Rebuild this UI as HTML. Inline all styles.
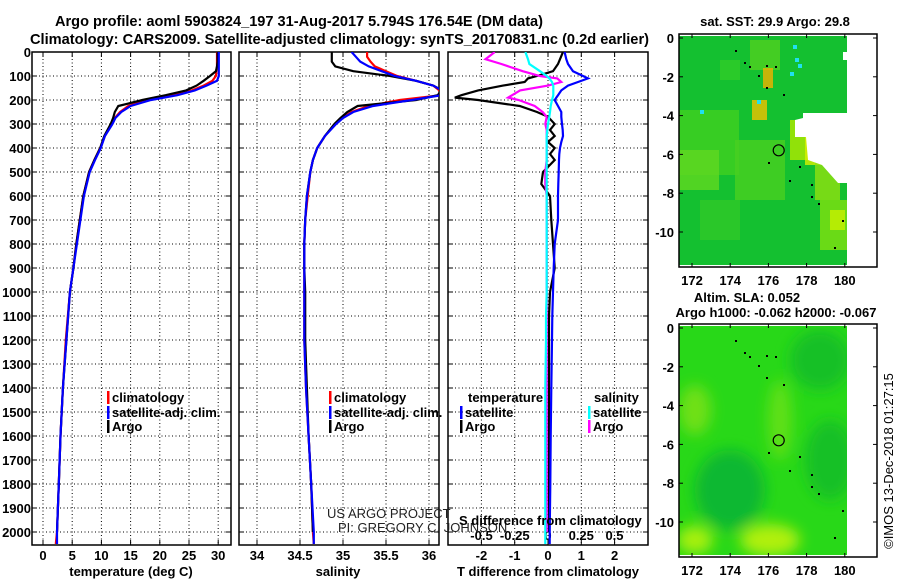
<!DOCTYPE html>
<html><head><meta charset="utf-8"><style>
body{margin:0;background:#fff;}
svg{display:block;font-family:"Liberation Sans",sans-serif;}
.t{font-weight:bold;font-size:13px;}
.ttl{font-weight:bold;font-size:15px;}
</style></head><body>
<svg id="s" width="900" height="580" viewBox="0 0 900 580" xmlns="http://www.w3.org/2000/svg">
<defs>
<clipPath id="c1"><rect x="32" y="52" width="199" height="493"/></clipPath>
<clipPath id="c2"><rect x="239" y="52" width="200" height="493"/></clipPath>
<clipPath id="c3"><rect x="448" y="52" width="200" height="493"/></clipPath>
<filter id="bl"><feGaussianBlur stdDeviation="7"/></filter>
<clipPath id="cm2"><rect x="679" y="326" width="168" height="229"/></clipPath>
</defs>
<text class="ttl" x="55" y="26" textLength="488" lengthAdjust="spacingAndGlyphs">Argo profile: aoml 5903824_197 31-Aug-2017 5.794S 176.54E (DM data)</text>
<text class="ttl" x="30" y="44" textLength="619" lengthAdjust="spacingAndGlyphs">Climatology: CARS2009. Satellite-adjusted climatology: synTS_20170831.nc (0.2d earlier)</text>
<g id="panels"></g>
<g id="maps"></g>
</svg>
<script>
// ---- profile data ----
const depths = [0,20,40,60,80,100,120,140,160,180,200,225,250,275,300,350,400,450,500,600,700,800,900,1000,1200,1400,1600,1800,2000,2050];
const tempClim = [29.8,29.8,29.8,29.8,29.7,29.6,29.0,27.5,25.5,22.5,18.0,14.6,13.2,12.3,11.8,10.6,9.8,8.8,7.9,6.9,6.3,5.7,5.2,4.6,3.9,3.4,3.0,2.7,2.4,2.2];
const tempSat = [30.1,30.1,30.1,30.1,30.1,30.1,29.8,28.0,26.0,23.0,18.5,15.0,13.4,12.4,11.9,10.6,9.9,8.9,8.0,7.0,6.4,5.8,5.2,4.6,4.0,3.4,3.0,2.7,2.4,2.4];
const tempArgo = [29.9,29.9,29.9,29.8,29.6,28.6,27.5,26.3,24.5,21.0,17.0,12.9,12.3,12.0,11.6,10.5,9.8,8.8,7.9,6.9,6.3,5.7,5.2,4.6,4.0,3.4,3.0,2.7,2.4,null];
const salClim = [35.28,35.28,35.32,35.37,35.5,35.63,35.85,36.05,36.12,36.15,35.66,35.3,35.1,34.99,34.91,34.79,34.7,34.65,34.62,34.59,34.56,34.55,34.55,34.55,34.55,34.57,34.6,34.63,34.65,34.66];
const salSat = [35.1,35.15,35.2,35.3,35.45,35.6,35.85,36.05,36.15,36.15,35.8,35.35,35.12,35.0,34.92,34.79,34.7,34.65,34.62,34.58,34.56,34.55,34.55,34.55,34.55,34.57,34.6,34.63,34.66,34.66];
const salArgo = [34.87,34.87,34.87,34.91,35.12,35.55,35.85,36.05,36.15,36.1,35.85,35.17,35.05,34.97,34.9,34.79,34.7,34.65,34.62,34.58,34.56,34.55,34.55,34.56,34.56,34.58,34.6,34.63,34.65,null];
const dDepths = [0,30,50,80,100,110,125,140,160,180,190,200,225,250,270,300,325,350,375,400,425,450,500,550,600,700,800,900,1000,1100,1200,1400,1600,1800,2000,2050];
const tDiffSat = [0.5,0.55,0.6,0.75,1.05,1.2,0.9,0.6,0.4,0.3,0.25,0.2,0.3,0.4,0.4,0.42,0.44,0.45,0.4,0.36,0.34,0.33,0.32,0.31,0.3,0.3,0.2,0.17,0.15,0.13,0.12,0.1,0.08,0.07,0.05,0.05];
const tDiffArgo = [0.45,0.36,0.3,0.15,-0.33,-0.6,-0.7,-1.35,-2.1,-2.6,-2.8,-2.1,-0.85,-0.33,0,0.2,0.06,0.2,0,0.2,0.06,0.2,-0.15,-0.2,0.06,0.1,0.15,0.2,0.06,0.03,0.03,0.03,0.03,0.03,0.03,null];
const sDiffSat = [-0.17,-0.15,-0.14,-0.06,-0.01,0.01,0.03,0.04,0.04,0.04,0.035,0.03,0.02,0.015,0.01,0,-0.005,-0.01,-0.01,-0.01,-0.01,-0.01,-0.01,-0.01,-0.01,-0.01,-0.01,-0.01,-0.01,-0.015,-0.015,-0.02,-0.02,-0.02,-0.02,-0.02];
const sDiffArgo = [-0.4,-0.47,-0.35,-0.19,-0.06,0.07,0.1,0,-0.21,-0.27,-0.3,-0.22,-0.1,-0.04,-0.01,-0.02,-0.01,-0.01,-0.01,-0.01,-0.01,-0.01,-0.02,-0.02,-0.01,-0.01,-0.01,-0.01,-0.01,-0.01,-0.01,-0.01,-0.01,-0.01,-0.01,null];
const depthTicks = [0,100,200,300,400,500,600,700,800,900,1000,1100,1200,1300,1400,1500,1600,1700,1800,1900,2000];
const tempTicks = [0,5,10,15,20,25,30];
const salTicks = [34,34.5,35,35.5,36];
const tdTicks = [-2,-1,0,1,2];
const sdTicks = [-0.5,-0.25,0,0.25,0.5];
const lonTicks = [172,174,176,178,180];
const latTicks = [0,-2,-4,-6,-8,-10];

const NS='http://www.w3.org/2000/svg';
function mk(tag, attrs, parent, txt){const e=document.createElementNS(NS,tag);for(const k in attrs)e.setAttribute(k,attrs[k]);if(txt!==undefined)e.textContent=txt;parent.appendChild(e);return e;}
const yD = d => 52 + 0.24*d;
const xT = t => 43 + 5.84*t;
const xS = s => 257 + 86*(s-34);
const xTD = t => 548 + 33.3*t;
const xSD = s => 548 + 133*s;
const P = document.getElementById('panels');

function line(ds, vals, xf, color, clip, name){
  let d='';let started=false;
  for(let i=0;i<ds.length;i++){ if(vals[i]===null)continue; d+=(started?'L':'M')+xf(vals[i]).toFixed(1)+','+yD(ds[i]).toFixed(1); started=true;}
  const e=mk('path',{d:d,fill:'none',stroke:color,'stroke-width':2.2,'clip-path':'url(#'+clip+')'},P);
  
  
}
function frame(x0,x1,name,clip,vt,xf,labels,ly){
  const g=mk('g',{},P);
  
  
  depthTicks.forEach(d=>{ if(d>0) mk('line',{x1:x0,x2:x1,y1:yD(d),y2:yD(d),stroke:'#000','stroke-width':1,'stroke-dasharray':'1,2.5'},g); mk('line',{x1:x0,x2:x0+5,y1:yD(d),y2:yD(d),stroke:'#000'},g); mk('line',{x1:x1-5,x2:x1,y1:yD(d),y2:yD(d),stroke:'#000'},g);});
  vt.forEach(v=>{const x=xf(v); mk('line',{x1:x,x2:x,y1:52,y2:545,stroke:'#000','stroke-width':1,'stroke-dasharray':'1,2.5'},g); mk('line',{x1:x,x2:x,y1:52,y2:57,stroke:'#000'},g); mk('line',{x1:x,x2:x,y1:540,y2:545,stroke:'#000'},g);
    if(labels){const t=mk('text',{x:x,y:ly,'text-anchor':'middle',class:'t'},g,String(v));  }});
  mk('rect',{x:x0,y:52,width:x1-x0,height:493,fill:'none',stroke:'#000','stroke-width':1.5},g);
}
frame(32,231,'temperature-panel','c1',tempTicks,xT,true,560);
frame(239,439,'salinity-panel','c2',salTicks,xS,true,560);
frame(448,648,'difference-panel','c3',tdTicks,xTD,true,560);
// S diff labels inside
sdTicks.forEach(v=>{const t=mk('text',{x:xSD(v),y:540,'text-anchor':'middle',class:'t'},P,String(v));  });
depthTicks.forEach(d=>{const t=mk('text',{x:31,y:yD(d)+5,'text-anchor':'end',class:'t'},P,String(d));  });

line(depths,tempClim,xT,'#f00','c1','temp-climatology-line');
line(depths,tempArgo,xT,'#000','c1','temp-argo-line');
line(depths,tempSat,xT,'#00f','c1','temp-satellite-line');
line(depths,salClim,xS,'#f00','c2','sal-climatology-line');
line(depths,salArgo,xS,'#000','c2','sal-argo-line');
line(depths,salSat,xS,'#00f','c2','sal-satellite-line');
line(dDepths,tDiffArgo,xTD,'#000','c3','tdiff-argo-line');
line(dDepths,tDiffSat,xTD,'#00f','c3','tdiff-satellite-line');
line(dDepths,sDiffArgo,xSD,'#f0f','c3','sdiff-argo-line');
line(dDepths,sDiffSat,xSD,'#0ff','c3','sdiff-satellite-line');

function txt(x,y,s,cls,name,extra){const a=Object.assign({x:x,y:y},extra||{}); if(cls)a['class']=cls; const t=mk('text',a,P,s);   return t;}
function leg(x,y,color,label,name){const r=mk('rect',{x:x,y:y-11,width:2.5,height:13,fill:color},P);   txt(x+5,y,label,'t',name);}
leg(107,402,'#f00','climatology','legend-climatology');
leg(107,417,'#00f','satellite-adj. clim.','legend-satellite');
leg(107,431,'#000','Argo','legend-argo');
leg(329,402,'#f00','climatology','legend-climatology-2');
leg(329,417,'#00f','satellite-adj. clim.','legend-satellite-2');
leg(329,431,'#000','Argo','legend-argo-2');
txt(468,402,'temperature','t','legend-temperature-header');
leg(460,417,'#00f','satellite','legend-t-satellite');
leg(460,431,'#000','Argo','legend-t-argo');
txt(594,402,'salinity','t','legend-salinity-header');
leg(588,417,'#0ff','satellite','legend-s-satellite');
leg(588,431,'#f0f','Argo','legend-s-argo');
txt(327,518,'US ARGO PROJECT',null,'project-credit',{'font-size':'13',fill:'#222'});
txt(338,532,'PI: GREGORY C. JOHNSON',null,'pi-credit',{'font-size':'13',fill:'#222'});
txt(459,525,'S difference from climatology','t','s-diff-axis-title');
txt(131,576,'temperature (deg C)','t','temp-axis-title',{'text-anchor':'middle'});
txt(338,576,'salinity','t','sal-axis-title',{'text-anchor':'middle'});
txt(548,576,'T difference from climatology','t','tdiff-axis-title',{'text-anchor':'middle'});

// ---- maps ----
const mapMarkerLon = 176.54, mapMarkerLat = -5.79;
const M = document.getElementById('maps');
const mx = lon => 692 + 19.1*(lon-172);
function drawMap(top, name){
  const my = lat => top+4 + 19.4*(-lat);
  const g=mk('g',{},M);
  
  
  return {g,my};
}
// top SST map
let m1=drawMap(34,'sst-map');
let g=m1.g;
mk('rect',{x:679,y:36,width:168,height:229,fill:'#14c030'},g);
[[679,110,60,65,'#40d020'],[679,150,40,40,'#60d820'],[750,40,30,30,'#50d020'],[735,140,50,60,'#48d020'],[790,120,20,40,'#b0e800'],[805,135,25,30,'#d8f000'],[815,150,25,50,'#90e010'],[820,200,27,50,'#80e010'],[830,210,15,20,'#c8f000'],[752,100,15,20,'#f0c000'],[763,68,10,20,'#f0b000'],[700,200,40,40,'#30c828'],[720,60,20,20,'#30cc28']].forEach(r=>{const e=mk('rect',{x:r[0],y:r[1],width:r[2],height:r[3],fill:r[4],opacity:0.8},g);});
[[793,45],[795,58],[798,64],[790,72],[700,110],[757,100]].forEach(p=>mk('rect',{x:p[0],y:p[1],width:4,height:4,fill:'#20e0f0'},g));
mk('polygon',{points:'803,113 847,113 847,183 838,183 822,165 808,160 806,137 795,137 795,120 803,118',fill:'#fff'},g);
mk('rect',{x:843,y:52,width:4,height:8,fill:'#fff'},g);
mk('rect',{x:847,y:35,width:30,height:231,fill:'#fff'},g);
// bottom SLA map
let m2=drawMap(324,'sla-map');
let g2=m2.g;
mk('rect',{x:679,y:326,width:168,height:229,fill:'#28d818'},g2);
const bg=mk('g',{filter:'url(#bl)','clip-path':'url(#cm2)'},g2);
mk('ellipse',{cx:730,cy:490,rx:35,ry:40,fill:'#10b830'},bg);
mk('ellipse',{cx:820,cy:360,rx:30,ry:30,fill:'#18c028'},bg);
mk('ellipse',{cx:830,cy:460,rx:25,ry:40,fill:'#18c028'},bg);
mk('ellipse',{cx:770,cy:540,rx:30,ry:16,fill:'#b0f010'},bg);
mk('ellipse',{cx:695,cy:540,rx:18,ry:14,fill:'#a8f010'},bg);
mk('ellipse',{cx:695,cy:410,rx:16,ry:25,fill:'#70e018'},bg);
mk('ellipse',{cx:780,cy:420,rx:12,ry:40,fill:'#60e018'},bg);
mk('rect',{x:847,y:325,width:30,height:231,fill:'#fff'},g2);
// frames, ticks, markers
[[34,m1],[324,m2]].forEach(([top,m])=>{
  const gg=m.g;
  mk('rect',{x:679,y:top,width:198,height:233,fill:'none',stroke:'#000','stroke-width':1.5},gg);
  const mc=mk('circle',{cx:mx(mapMarkerLon),cy:m.my(mapMarkerLat),r:5.5,fill:'none',stroke:'#000','stroke-width':1.2},gg);
   
  lonTicks.forEach(l=>{const x=mx(l); mk('line',{x1:x,x2:x,y1:top,y2:top+4,stroke:'#000'},gg); mk('line',{x1:x,x2:x,y1:top+229,y2:top+233,stroke:'#000'},gg);
    const t=mk('text',{x:x,y:top+251,'text-anchor':'middle',class:'t'},gg,String(l));  });
  latTicks.forEach(l=>{const y=m.my(l); mk('line',{x1:679,x2:683,y1:y,y2:y,stroke:'#000'},gg); mk('line',{x1:873,x2:877,y1:y,y2:y,stroke:'#000'},gg);
    const t=mk('text',{x:674,y:y+5,'text-anchor':'end',class:'t'},gg,String(l));  });
  [[736,50],[745,62],[750,66],[767,65],[776,66],[759,75],[767,87],[784,94],[769,162],[800,166],[790,180],[812,184],[812,196],[819,203],[843,220],[835,247]].forEach(p=>mk('rect',{x:p[0]-1,y:p[1]-34+top,width:2,height:2,fill:'#000'},gg));
});
txt(775,26,'sat. SST: 29.9 Argo: 29.8','t','sst-map-title',{'text-anchor':'middle'});
txt(747,302,'Altim. SLA: 0.052','t','sla-map-title',{'text-anchor':'middle'});
txt(776,317,'Argo h1000: -0.062 h2000: -0.067','t','sla-map-subtitle',{'text-anchor':'middle'});
txt(0,0,'©IMOS 13-Dec-2018 01:27:15',null,'timestamp',{'font-size':'13','text-anchor':'middle',transform:'translate(893,461) rotate(-90)'});
</script>
</body></html>
